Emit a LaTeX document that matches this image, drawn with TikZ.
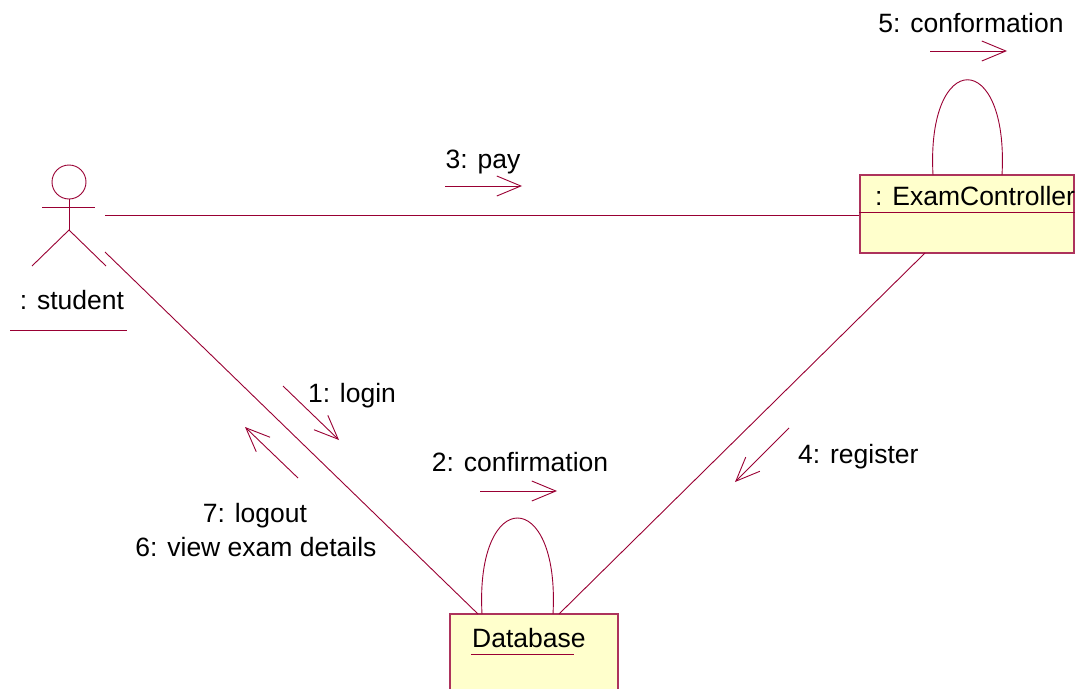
\documentclass[tikz,border=0pt]{standalone}
\usepackage{fontspec}
\setmainfont{Liberation Sans}
\usetikzlibrary{arrows.meta}
\definecolor{umlline}{RGB}{153,0,51}
\definecolor{umlfill}{RGB}{255,255,204}
\tikzset{
  umlconn/.style={draw=umlline, line width=0.9pt},
  msgarrow/.style={draw=umlline, line width=0.9pt, -{Straight Barb[length=24pt,width=20pt,line width=0.9pt]}},
  umlbox/.style={draw=umlline!80!white, fill=umlfill, line width=1.2pt, inner sep=0pt},
  lbl/.style={font=\fontsize{26.5}{30}\selectfont, inner sep=0pt, anchor=base, text=black},
}
\begin{document}
\begin{tikzpicture}[x=1pt,y=-1pt]
\useasboundingbox (0,0) rectangle (1075,688);
\clip (0,0) rectangle (1075,688);
% boxes
\node[umlbox, minimum width=214pt, minimum height=78pt] (ec) at (967,214) {};
\node[umlbox, minimum width=168pt, minimum height=100pt] (db) at (534,664) {};
\draw[umlline, line width=0.9pt] (ec.west |- 0,212) -- (ec.east |- 0,212);
\node[lbl, anchor=base west] (ectxt) at (875,205) {: ExamController};
\node[lbl, anchor=base west] (dbtxt) at (472,647) {Database};
\draw[umlline, line width=0.9pt] (471,654) -- (574,654);
% actor
\node[circle, draw=umlline, line width=0.9pt, minimum size=34pt, inner sep=0pt] (head) at (69,182) {};
\coordinate (hip) at (69,230);
\draw[umlconn] (head.south) -- (hip);
\draw[umlconn] (42,207) -- (95,207);
\draw[umlconn] (32,266) -- (hip) -- (106,266);
\node[lbl] (stutxt) at (72,309) {: student};
\draw[umlconn] (10,330) -- (127,330);
% links
\coordinate (s1) at (105,215);
\coordinate (s2) at (105,252);
\draw[umlconn] (s1) -- (ec.west |- s1);
\coordinate (db1) at (478,614);
\coordinate (db2) at (559,614);
\coordinate (ec1) at (925,253);
\draw[umlconn] (s2) -- (db1);
\draw[umlconn] (ec1) -- (db2);
% self loops
\coordinate (el1) at (933,175);
\coordinate (el2) at (1002,175);
\draw[umlconn] (el1) .. controls (926,48) and (1009,48) .. (el2);
\coordinate (dl1) at (482,614);
\coordinate (dl2) at (553,614);
\draw[umlconn] (dl1) .. controls (475,486) and (560,486) .. (dl2);
% message arrows
\coordinate (a3s) at (445,186); \coordinate (a3e) at (522,186);
\draw[msgarrow] (a3s) -- (a3e);
\coordinate (a5s) at (930,51); \coordinate (a5e) at (1007,51);
\draw[msgarrow] (a5s) -- (a5e);
\coordinate (a2s) at (480,491); \coordinate (a2e) at (557,491);
\draw[msgarrow] (a2s) -- (a2e);
\coordinate (a1s) at (283,386); \coordinate (a1e) at (339,440);
\draw[msgarrow] (a1s) -- (a1e);
\coordinate (a7s) at (298,478); \coordinate (a7e) at (245,427);
\draw[msgarrow] (a7s) -- (a7e);
\coordinate (a4s) at (789,428); \coordinate (a4e) at (735,482);
\draw[msgarrow] (a4s) -- (a4e);
% labels
\node[lbl] (l5) at (971,32) {5: conformation};
\node[lbl] (l3) at (483,168) {3: pay};
\node[lbl] (l2) at (520,471) {2: confirmation};
\node[lbl] (l1) at (352,402) {1: login};
\node[lbl, anchor=base west] (l4) at (798,463) {4: register};
\node[lbl] (l7) at (255,522) {7: logout};
\node[lbl] (l6) at (256,556) {6: view exam details};
\end{tikzpicture}
\end{document}
